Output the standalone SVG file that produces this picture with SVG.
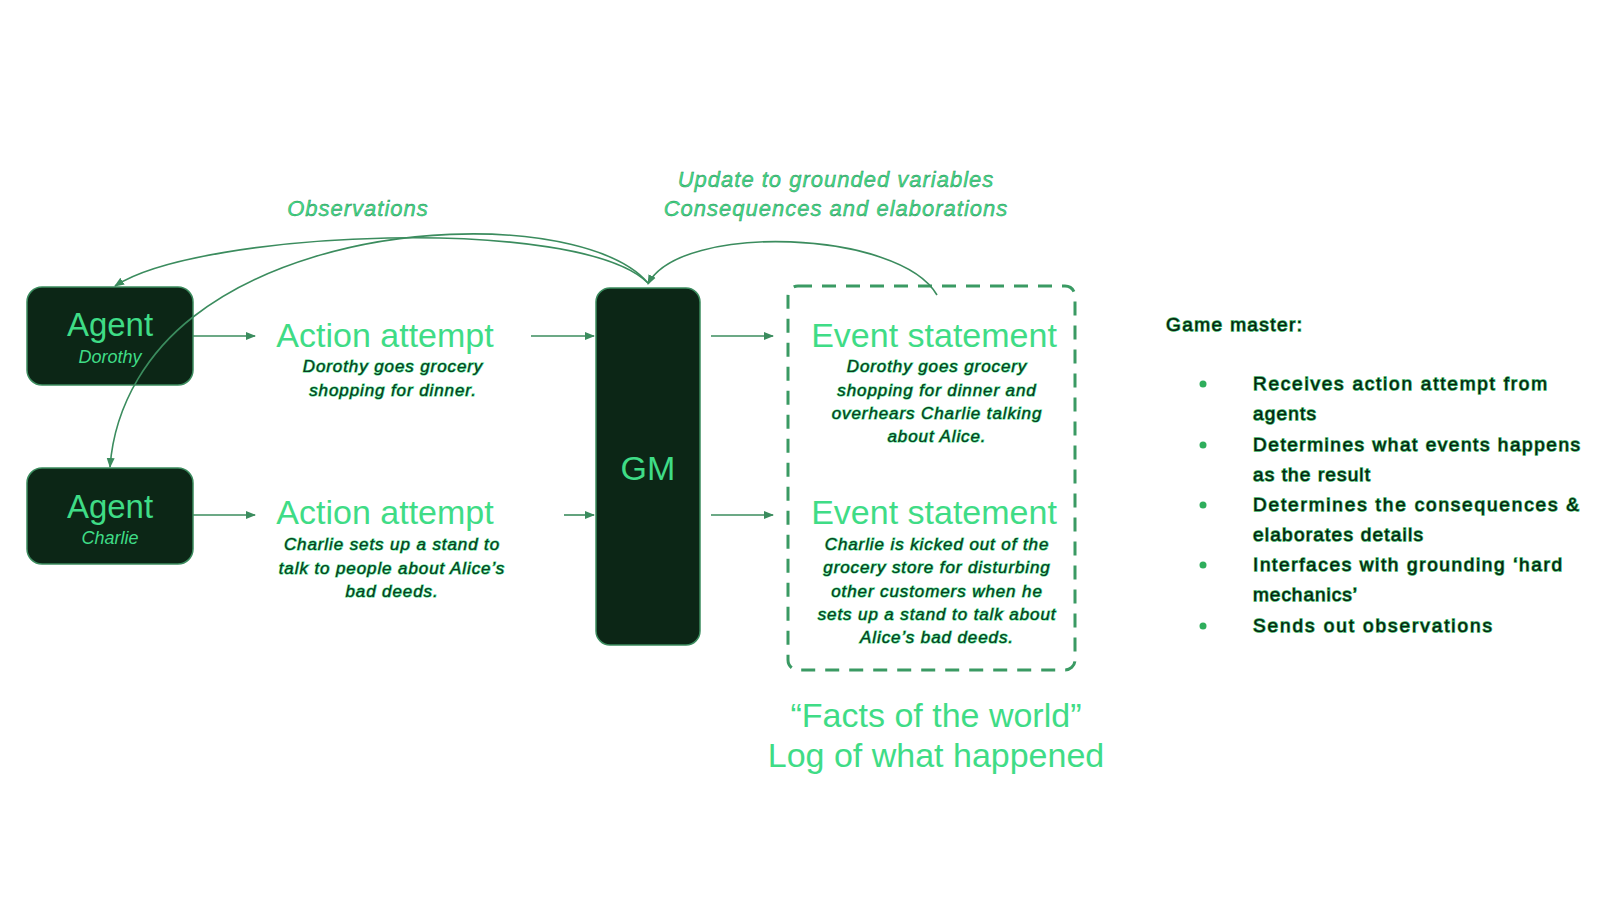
<svg xmlns="http://www.w3.org/2000/svg" width="1600" height="900" viewBox="0 0 1600 900">
<defs>
<marker id="arr" viewBox="0 0 10 10" refX="9" refY="5" markerWidth="10" markerHeight="10" markerUnits="userSpaceOnUse" orient="auto">
<path d="M0,1 L10,5 L0,9 z" fill="#3b8c5e"/>
</marker>
<style>
.box{fill:#0c2616;stroke:#3b8c5e;stroke-width:1.5}
.big{font-family:"Liberation Sans",Arial,sans-serif;fill:#3fdc86;text-anchor:middle}
.sub{font-family:"Liberation Sans",Arial,sans-serif;font-style:italic;fill:#3fdc86;text-anchor:middle}
.desc{font-family:"Liberation Sans",Arial,sans-serif;font-style:italic;font-size:17px;letter-spacing:0.9px;fill:#103a22;stroke:#3fdc86;stroke-width:1.2;paint-order:stroke;text-anchor:middle}
.lbl{font-family:"Liberation Sans",Arial,sans-serif;font-style:italic;font-size:22px;letter-spacing:1px;fill:#3fdc86;stroke:#2a8a55;stroke-width:0.4;text-anchor:middle}
.gm{font-family:"Liberation Sans",Arial,sans-serif;font-size:19px;fill:#0b1f10;stroke:#2fae5c;stroke-width:1.4;paint-order:stroke}
.con{fill:none;stroke:#3b8c5e;stroke-width:1.6}
</style>
</defs>
<rect width="1600" height="900" fill="#ffffff"/>

<g id="agent-dorothy">
<rect class="box" x="27" y="287" width="166" height="98" rx="15"/>
<text class="big" x="110" y="336" font-size="33">Agent</text>
<text class="sub" x="110" y="363" font-size="18">Dorothy</text>
</g>

<g id="agent-charlie">
<rect class="box" x="27" y="468" width="166" height="96" rx="15"/>
<text class="big" x="110" y="518" font-size="33">Agent</text>
<text class="sub" x="110" y="544" font-size="18">Charlie</text>
</g>

<g id="action-attempt-1">
<text class="big" x="385" y="347" font-size="34">Action attempt</text>
<text class="desc" x="393" y="372">Dorothy goes grocery</text>
<text class="desc" x="393" y="396">shopping for dinner.</text>
</g>

<g id="action-attempt-2">
<text class="big" x="385" y="524" font-size="34">Action attempt</text>
<text class="desc" x="392" y="550">Charlie sets up a stand to</text>
<text class="desc" x="392" y="574">talk to people about Alice’s</text>
<text class="desc" x="392" y="597">bad deeds.</text>
</g>

<g id="gm">
<rect class="box" x="596" y="288" width="104" height="357" rx="14"/>
<text class="big" x="648" y="480" font-size="34">GM</text>
</g>

<g id="facts-box">
<rect x="788" y="286" width="287" height="384" rx="10" fill="none" stroke="#3a9a63" stroke-width="3" stroke-dasharray="14,10"/>
<text class="big" x="934" y="347" font-size="34">Event statement</text>
<text class="desc" x="937" y="372">Dorothy goes grocery</text>
<text class="desc" x="937" y="396">shopping for dinner and</text>
<text class="desc" x="937" y="419">overhears Charlie talking</text>
<text class="desc" x="937" y="442">about Alice.</text>
<text class="big" x="934" y="524" font-size="34">Event statement</text>
<text class="desc" x="937" y="550">Charlie is kicked out of the</text>
<text class="desc" x="937" y="573">grocery store for disturbing</text>
<text class="desc" x="937" y="597">other customers when he</text>
<text class="desc" x="937" y="620">sets up a stand to talk about</text>
<text class="desc" x="937" y="643">Alice’s bad deeds.</text>
</g>

<g id="facts-label">
<text class="big" x="936" y="727" font-size="34">“Facts of the world”</text>
<text class="big" x="936" y="767" font-size="34">Log of what happened</text>
</g>

<g id="labels">
<text class="lbl" x="358" y="216">Observations</text>
<text class="lbl" x="836" y="187">Update to grounded variables</text>
<text class="lbl" x="836" y="216">Consequences and elaborations</text>
</g>

<g id="game-master-notes">
<text class="gm" x="1166" y="331" textLength="136" lengthAdjust="spacing">Game master:</text>
<g fill="#2fae5c">
<circle cx="1203" cy="384" r="3.5"/>
<circle cx="1203" cy="445" r="3.5"/>
<circle cx="1203" cy="505" r="3.5"/>
<circle cx="1203" cy="565" r="3.5"/>
<circle cx="1203" cy="626" r="3.5"/>
</g>
<text class="gm" x="1253" y="390" textLength="294" lengthAdjust="spacing">Receives action attempt from</text>
<text class="gm" x="1253" y="420" textLength="63" lengthAdjust="spacing">agents</text>
<text class="gm" x="1253" y="451" textLength="327" lengthAdjust="spacing">Determines what events happens</text>
<text class="gm" x="1253" y="481" textLength="117" lengthAdjust="spacing">as the result</text>
<text class="gm" x="1253" y="511" textLength="326" lengthAdjust="spacing">Determines the consequences &amp;</text>
<text class="gm" x="1253" y="541" textLength="170" lengthAdjust="spacing">elaborates details</text>
<text class="gm" x="1253" y="571" textLength="309" lengthAdjust="spacing">Interfaces with grounding ‘hard</text>
<text class="gm" x="1253" y="601" textLength="104" lengthAdjust="spacing">mechanics’</text>
<text class="gm" x="1253" y="632" textLength="239" lengthAdjust="spacing">Sends out observations</text>
</g>

<g id="connectors">
<path class="con" d="M193,336 L255,336" marker-end="url(#arr)"/>
<path class="con" d="M531,336 L594,336" marker-end="url(#arr)"/>
<path class="con" d="M193,515 L255,515" marker-end="url(#arr)"/>
<path class="con" d="M564,515 L594,515" marker-end="url(#arr)"/>
<path class="con" d="M711,336 L773,336" marker-end="url(#arr)"/>
<path class="con" d="M711,515 L773,515" marker-end="url(#arr)"/>
<path class="con" d="M648,283 C580,215 200,230 115,286" marker-end="url(#arr)"/>
<path class="con" d="M648,283 C590,215 330,210 193,317 C152,349 115,400 110,467" marker-end="url(#arr)"/>
<path class="con" d="M937,295 C900,230 680,222 648,284" marker-end="url(#arr)"/>
</g>
</svg>
